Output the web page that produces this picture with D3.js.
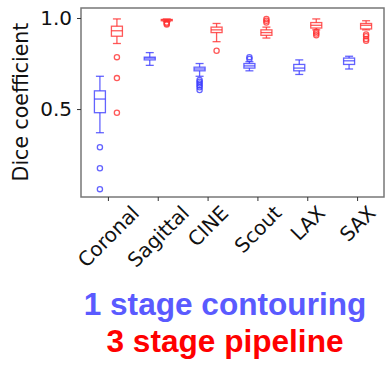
<!DOCTYPE html>
<html>
<head>
<meta charset="utf-8">
<script src="https://cdn.jsdelivr.net/npm/d3@7"></script>
<style>
  body { margin: 0; background: #fff; }
  svg { display: block; }
</style>
</head>
<body>
<div id="chart"></div>
<script>
// categories along the x axis
const categories = ['Coronal', 'Sagittal', 'CINE', 'Scout', 'LAX', 'SAX'];

// box stats: [lower whisker, q1, median, q3, upper whisker]
const oneStageStats = [
    [0.37, 0.48, 0.555, 0.60, 0.68],
    [0.74, 0.77, 0.78, 0.785, 0.81],
    [0.68, 0.71, 0.72, 0.73, 0.75],
    [0.71, 0.725, 0.737, 0.75, 0.76],
    [0.69, 0.71, 0.725, 0.745, 0.77],
    [0.72, 0.745, 0.765, 0.78, 0.79]
];
const oneStageOutliers = [
    [0.29, 0.175, 0.06],
    [],
    [0.66, 0.65, 0.64, 0.63, 0.62, 0.605],
    [0.785, 0.775],
    [],
    []
];
const threeStageStats = [
    [0.86, 0.90, 0.93, 0.955, 0.995],
    [0.98, 0.985, 0.99, 0.992, 0.995],
    [0.87, 0.92, 0.935, 0.95, 0.97],
    [0.89, 0.905, 0.92, 0.935, 0.95],
    [0.935, 0.945, 0.96, 0.975, 0.995],
    [0.935, 0.94, 0.96, 0.97, 0.985]
];
const threeStageOutliers = [
    [0.785, 0.67, 0.48],
    [0.975, 0.97, 0.965],
    [0.82],
    [0.995, 0.985, 0.975],
    [0.925, 0.915, 0.905],
    [0.91, 0.9, 0.885, 0.875]
];

const yTicks = [0.5, 1.0];
const legendLines = ['1 stage contouring', '3 stage pipeline'];

const W = 387, H = 365;
const margin = { left: 81, top: 8, right: 3, bottom: 168 };

const svg = d3.select('#chart').append('svg')
    .attr('width', W)
    .attr('height', H);

const x = d3.scaleBand()
    .domain(categories)
    .range([margin.left + 1, W - margin.right])
    .paddingOuter(0.03);

const y = d3.scaleLinear()
    .domain([0.017, 1.055])
    .range([H - margin.bottom, margin.top]);

const series = [
    { stats: oneStageStats, outliers: oneStageOutliers, color: '#3c3cff', offset: -8.5 },
    { stats: threeStageStats, outliers: threeStageOutliers, color: '#ff3030', offset: 8.5 }
];

const boxW = 11, capW = 8;

series.forEach(s => {
    const g = svg.append('g')
        .attr('stroke', s.color)
        .attr('stroke-opacity', 0.8)
        .attr('fill', 'none')
        .attr('stroke-width', 1.3);

    categories.forEach((cat, i) => {
        const cx = x(cat) + x.bandwidth() / 2 + s.offset;
        const [lo, q1, med, q3, hi] = s.stats[i];
        // whiskers
        g.append('line').attr('x1', cx).attr('x2', cx).attr('y1', y(hi)).attr('y2', y(q3));
        g.append('line').attr('x1', cx).attr('x2', cx).attr('y1', y(q1)).attr('y2', y(lo));
        g.append('line').attr('x1', cx - capW / 2).attr('x2', cx + capW / 2).attr('y1', y(hi)).attr('y2', y(hi));
        g.append('line').attr('x1', cx - capW / 2).attr('x2', cx + capW / 2).attr('y1', y(lo)).attr('y2', y(lo));
        // box
        g.append('rect')
            .attr('x', cx - boxW / 2)
            .attr('y', y(q3))
            .attr('width', boxW)
            .attr('height', Math.max(1, y(q1) - y(q3)));
        g.append('line').attr('x1', cx - boxW / 2).attr('x2', cx + boxW / 2).attr('y1', y(med)).attr('y2', y(med));
        // outliers
        s.outliers[i].forEach(v => {
            g.append('circle').attr('cx', cx).attr('cy', y(v)).attr('r', 2.6);
        });
    });
});

// frame
svg.append('rect')
    .attr('x', margin.left)
    .attr('y', margin.top)
    .attr('width', W - margin.right - margin.left)
    .attr('height', H - margin.bottom - margin.top)
    .attr('fill', 'none')
    .attr('stroke', '#777')
    .attr('stroke-width', 1.5);

// y axis
const yAxis = svg.append('g')
    .attr('transform', `translate(${margin.left},0)`)
    .call(d3.axisLeft(y).tickValues(yTicks).tickFormat(d3.format('.1f')).tickSize(4).tickPadding(5));
yAxis.select('.domain').remove();
yAxis.selectAll('line').attr('stroke', '#333');
yAxis.selectAll('text')
    .attr('font-family', 'DejaVu Sans')
    .attr('font-size', 20)
    .attr('fill', '#111');

svg.append('text')
    .attr('transform', `translate(28,102) rotate(-90)`)
    .attr('text-anchor', 'middle')
    .attr('font-family', 'DejaVu Sans')
    .attr('font-size', 20.5)
    .attr('fill', '#111')
    .text('Dice coefficient');

// x axis
const xAxis = svg.append('g')
    .attr('transform', `translate(0,${H - margin.bottom})`)
    .call(d3.axisBottom(x).tickSize(4).tickFormat(''));
xAxis.select('.domain').remove();
xAxis.selectAll('line').attr('stroke', '#333');

const xl = svg.append('g');
categories.forEach(cat => {
    const t = xl.append('text')
        .attr('font-family', 'DejaVu Sans')
        .attr('font-size', 20)
        .attr('fill', '#111')
        .attr('text-anchor', 'middle')
        .attr('dy', '0.35em')
        .text(cat);
    const w = t.node().getComputedTextLength();
    const bh = (w + 15) * Math.SQRT1_2;
    const cx = x(cat) + x.bandwidth() / 2;
    const cy = H - margin.bottom + 7 + bh / 2;
    t.attr('transform', `translate(${cx},${cy}) rotate(-45)`);
});

// legend text
const legendColors = ['#5a5aff', '#ff0000'];
const legendY = [315, 352];
legendLines.forEach((txt, i) => {
    svg.append('text')
        .attr('x', 225)
        .attr('y', legendY[i])
        .attr('text-anchor', 'middle')
        .attr('font-family', 'Liberation Sans, Arial, sans-serif')
        .attr('font-weight', 'bold')
        .attr('font-size', 31.6)
        .attr('fill', legendColors[i])
        .text(txt);
});
</script>
</body>
</html>
